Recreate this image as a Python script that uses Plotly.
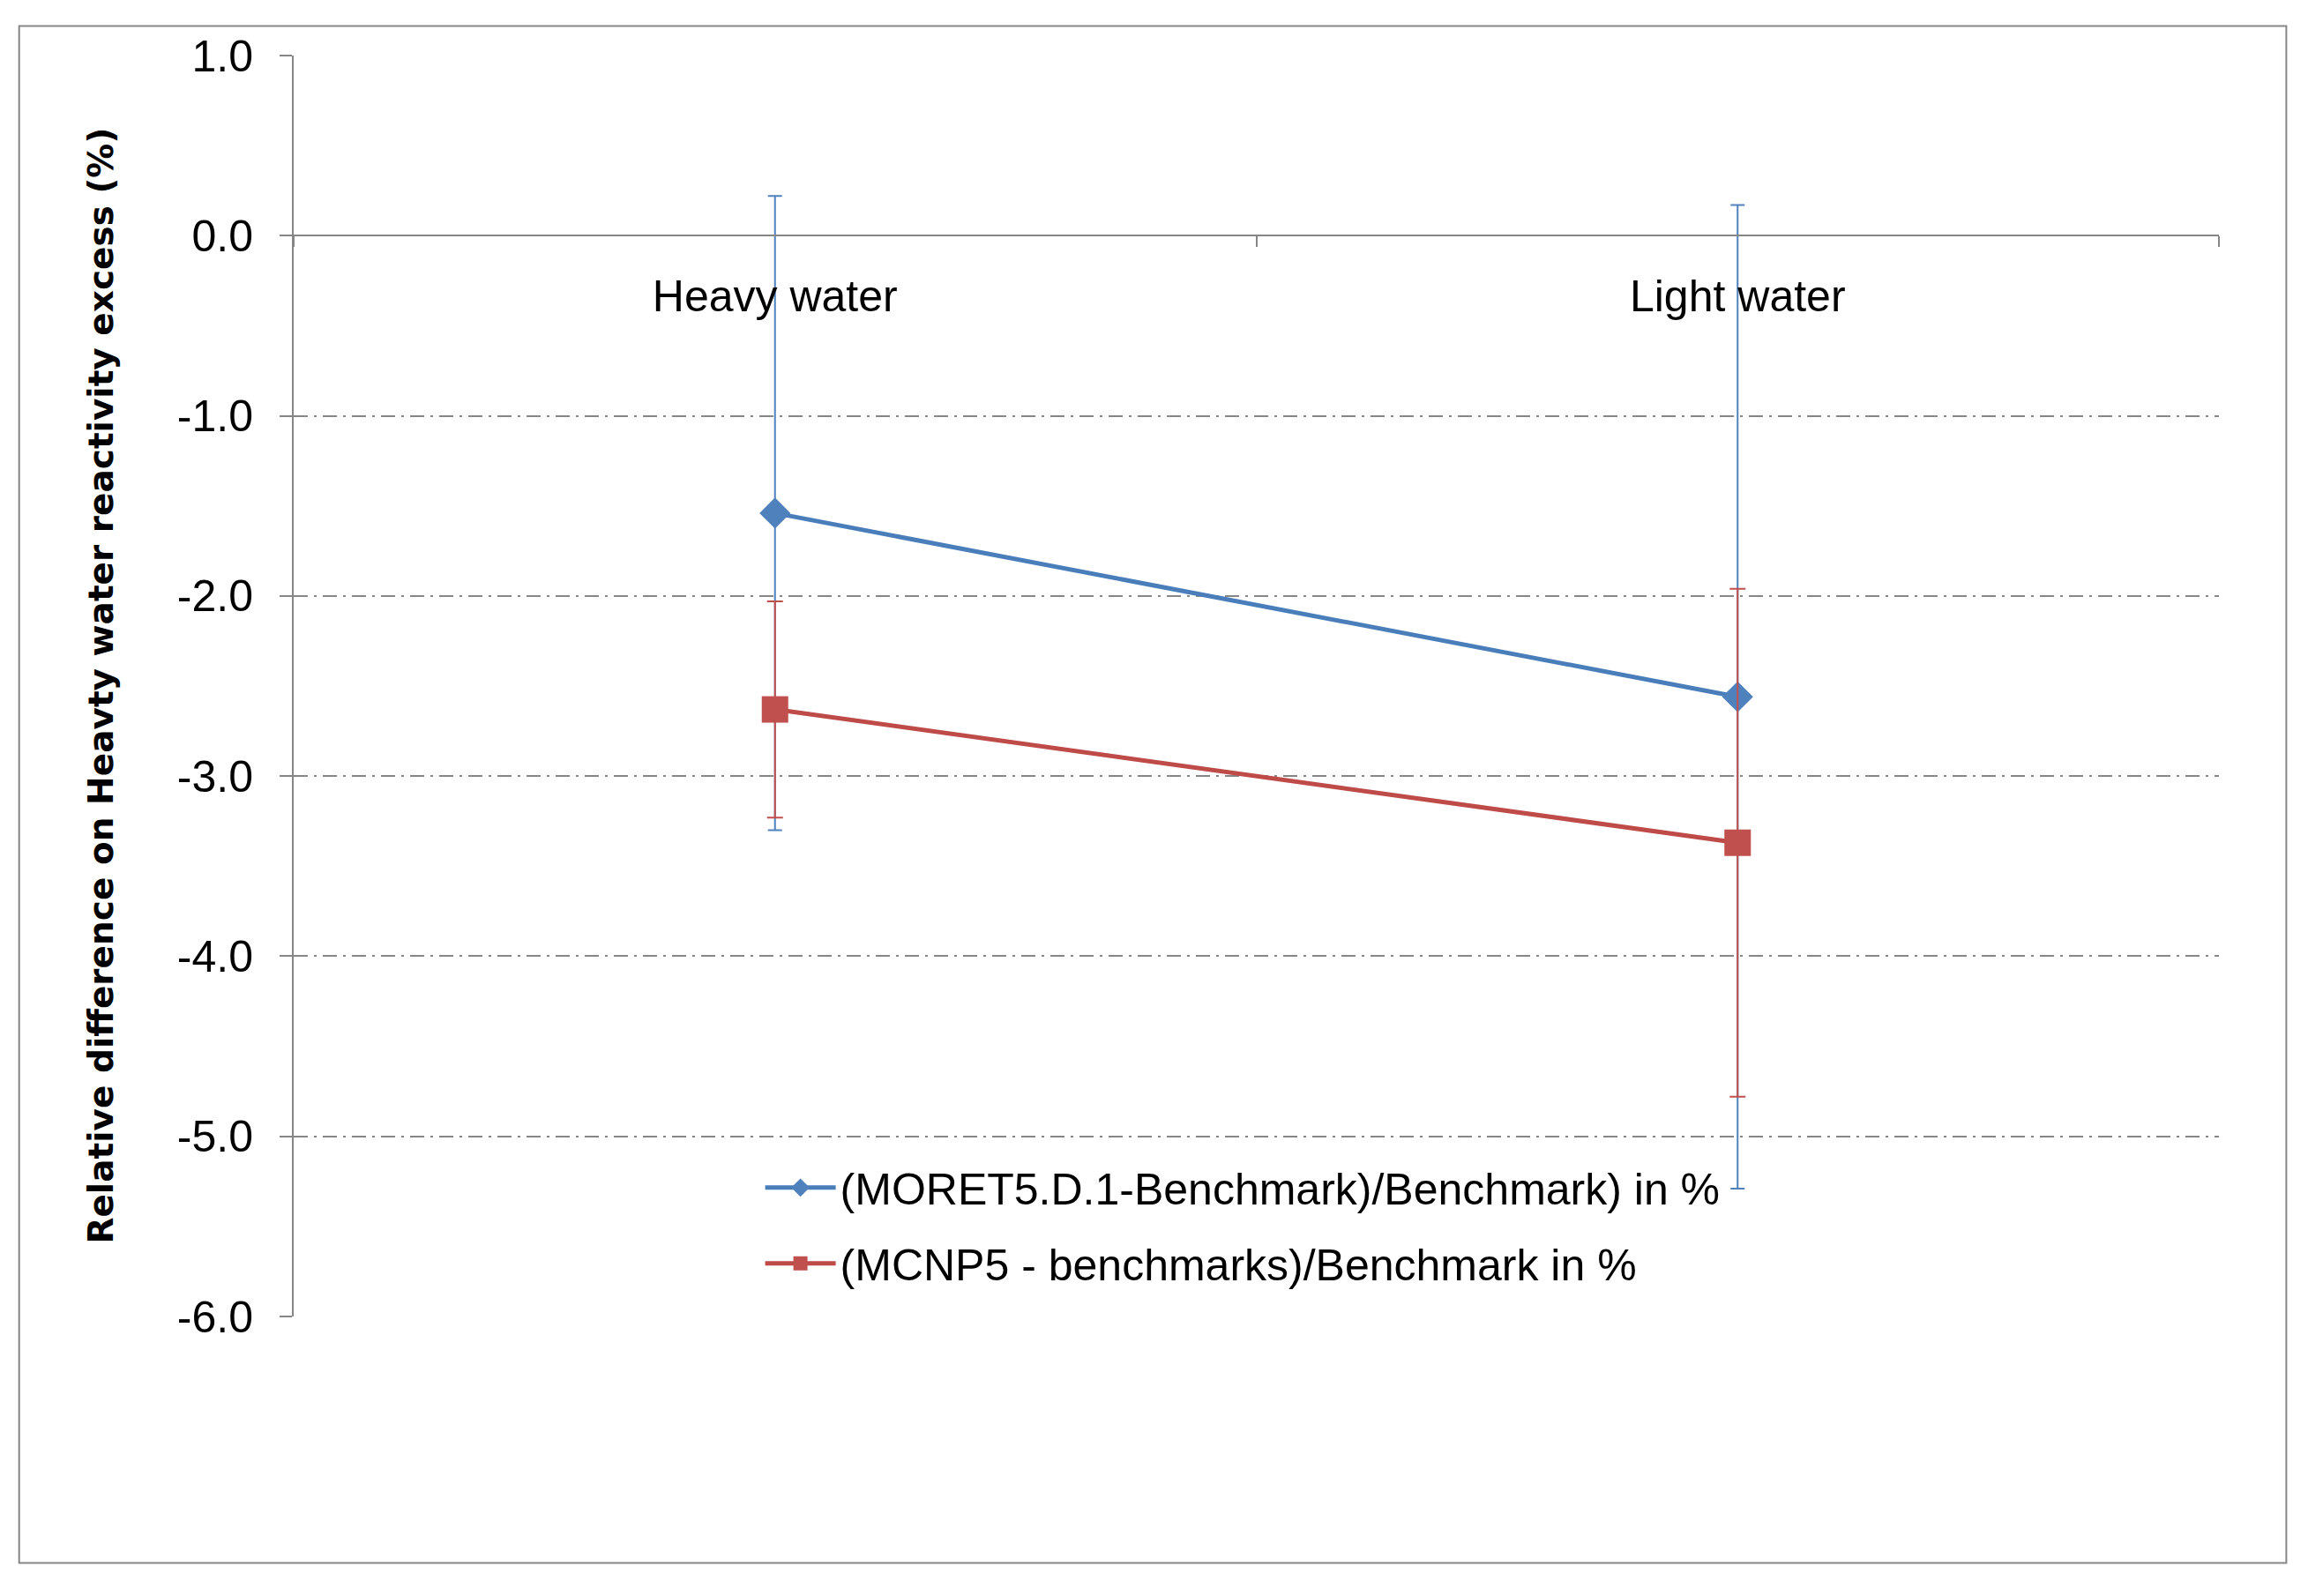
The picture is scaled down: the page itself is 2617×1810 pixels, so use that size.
import plotly.graph_objects as go

# data
categories = ["Heavy water", "Light water"]
moret_values = [-1.54, -2.56]
moret_errors = [1.76, 2.73]
mcnp_values = [-2.63, -3.37]
mcnp_errors = [0.60, 1.41]

moret_name = "(MORET5.D.1-Benchmark)/Benchmark) in %"
mcnp_name = "(MCNP5 - benchmarks)/Benchmark in %"
y_title = "Relative difference on Heavty water reactivity excess (%)"

y_tickvals = [1.0, 0.0, -1.0, -2.0, -3.0, -4.0, -5.0, -6.0]
y_ticktext = ["1.0", "0.0", "-1.0", "-2.0", "-3.0", "-4.0", "-5.0", "-6.0"]
y_range = [-6.0, 1.0]

BLUE = "#4A7EBB"
RED = "#BE4B48"
GRID = "#868686"
FONT = "Liberation Sans"

fig = go.Figure()
fig.add_trace(go.Scatter(
    x=categories, y=moret_values, name=moret_name, legendgroup="a",
    mode="lines+markers",
    line=dict(color=BLUE, width=5),
    marker=dict(symbol="diamond", size=27, color="#4F81BD"),
    error_y=dict(type="data", array=moret_errors, visible=True,
                 color="#4F81BD", thickness=2, width=8),
))
fig.add_trace(go.Scatter(
    x=categories, y=mcnp_values, name=mcnp_name, legendgroup="b",
    mode="lines+markers",
    line=dict(color=RED, width=5),
    marker=dict(symbol="square", size=30, color="#C0504D"),
    error_y=dict(type="data", array=mcnp_errors, visible=True,
                 color="#C0504D", thickness=2, width=9),
))

# x axis crosses the y axis at 0
x_pos = (0 - y_range[0]) / (y_range[1] - y_range[0])

fig.update_layout(
    width=2617, height=1810,
    margin=dict(l=325, r=109, t=55, b=325),
    paper_bgcolor="white", plot_bgcolor="white",
    font=dict(family=FONT, size=50, color="black"),
    showlegend=True,
    legend=dict(x=0.2426, y=0.1295, xanchor="left", yanchor="top",
                bgcolor="rgba(0,0,0,0)", tracegroupgap=18, itemwidth=80,
                font=dict(family=FONT, size=50)),
    xaxis=dict(
        type="category", range=[-0.5, len(categories) - 0.5],
        anchor="free", position=x_pos,
        showline=True, linecolor=GRID, linewidth=2,
        showgrid=False, tickson="boundaries",
        ticks="outside", ticklen=12, tickwidth=2, tickcolor=GRID,
        ticklabelstandoff=25,
        tickfont=dict(family=FONT, size=50),
    ),
    yaxis=dict(
        range=y_range, tickvals=y_tickvals, ticktext=y_ticktext,
        showline=True, linecolor=GRID, linewidth=2,
        showgrid=True, gridcolor=GRID, gridwidth=2, griddash="16px,7px,3px,7px",
        zeroline=False,
        ticks="outside", ticklen=14, tickwidth=2, tickcolor=GRID,
        ticklabelstandoff=20,
        tickfont=dict(family=FONT, size=50),
    ),
    annotations=[dict(
        text=y_title, textangle=-90, showarrow=False,
        xref="paper", yref="paper", x=-0.1005, y=0.5,
        xanchor="center", yanchor="middle",
        font=dict(family="DejaVu Sans", size=39, weight="bold", color="black"),
    )],
    shapes=[dict(
        type="rect", xref="paper", yref="paper",
        x0=-0.1426, x1=1.035, y0=-0.1955, y1=1.0235,
        line=dict(color=GRID, width=2), fillcolor="rgba(0,0,0,0)", layer="below",
    )],
)

fig.write_html("out.html")
